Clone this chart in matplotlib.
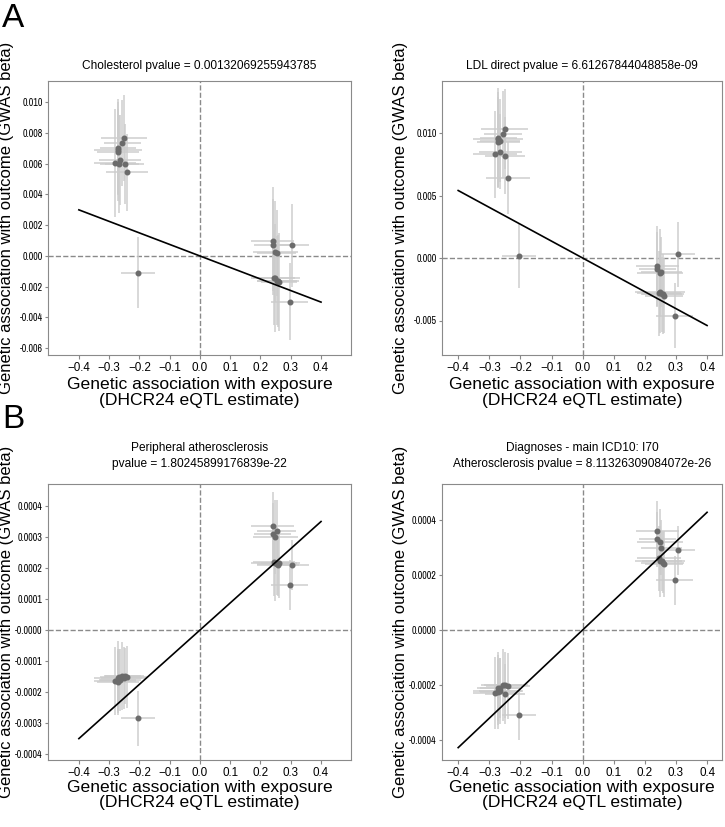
import numpy as np
import matplotlib
matplotlib.use('Agg')
from matplotlib import pyplot as plt
from matplotlib import font_manager
from matplotlib.ticker import FormatStrFormatter

plt.rcParams['font.family'] = ['Liberation Sans', 'DejaVu Sans']

# a condensed face for the y tick labels, if one is installed
narrow = [f.name for f in font_manager.fontManager.ttflist
          if 'Narrow' in f.name or 'Condensed' in f.name]
ytick_family = [narrow[0], 'Liberation Sans'] if narrow else ['Liberation Sans']
ytick_size = 7.2 if narrow else 6.5

# exposure: DHCR24 eQTL estimates (shared by all four outcomes)
x_snp = [-0.281, -0.271, -0.271, -0.271, -0.266, -0.264, -0.256, -0.251, -0.249, -0.240, -0.205,
         0.240, 0.240, 0.249, 0.253, 0.249, 0.257, 0.262, 0.255, 0.245, 0.305, 0.296]
x_err = [0.07, 0.06, 0.08, 0.07, 0.065, 0.07, 0.06, 0.075, 0.065, 0.07, 0.055,
         0.07, 0.06, 0.075, 0.065, 0.08, 0.07, 0.06, 0.065, 0.07, 0.055, 0.06]

# outcomes: GWAS beta per SNP
chol_beta = [0.00603, 0.00702, 0.00689, 0.00676, 0.00598, 0.00624, 0.00733, 0.00766, 0.00598, 0.00544, -0.00109,
             0.00099, 0.00072, 0.00028, 0.00021, -0.00145, -0.00163, -0.00171, -0.0016, -0.0014, 0.0007, -0.00297]
chol_err = [0.0035, 0.003, 0.0033, 0.0028, 0.0032, 0.0029, 0.0028, 0.0028, 0.0026, 0.0025, 0.0023,
            0.0035, 0.003, 0.0033, 0.0028, 0.0035, 0.003, 0.0032, 0.0029, 0.0031, 0.0027, 0.0025]

ldl_beta = [0.0083, 0.0096, 0.0095, 0.0093, 0.0094, 0.0085, 0.0099, 0.0103, 0.0082, 0.0064, 0.0002,
            -0.0006, -0.0009, -0.0012, -0.0011, -0.0027, -0.0029, -0.0030, -0.0029, -0.0028, 0.0003, -0.0046]
ldl_err = [0.0035, 0.004, 0.0038, 0.0036, 0.0033, 0.003, 0.0035, 0.0032, 0.0031, 0.0029, 0.0026,
           0.0032, 0.003, 0.0035, 0.0028, 0.0033, 0.0032, 0.003, 0.003, 0.0034, 0.0026, 0.0026]

pad_beta = [-0.000165, -0.00016, -0.000155, -0.000168, -0.00015, -0.000162, -0.000148, -0.000155, -0.000147, -0.00015, -0.000285,
            0.000335, 0.00031, 0.0003, 0.00032, 0.000215, 0.00021, 0.000215, 0.000212, 0.00022, 0.00021, 0.000145]
pad_err = [0.00011, 0.0001, 0.00012, 0.0001, 0.00009, 0.0001, 0.00011, 0.0001, 0.00009, 0.0001, 0.00009,
           0.00011, 0.0001, 0.00012, 0.0001, 0.00012, 0.0001, 0.00011, 0.0001, 0.00011, 0.00008, 0.00008]

i70_beta = [-0.00023, -0.000227, -0.000221, -0.000212, -0.000212, -0.000221, -0.0002, -0.0002, -0.000233, -0.000205, -0.000311,
            0.00036, 0.00033, 0.00032, 0.00030, 0.00025, 0.000245, 0.00024, 0.00025, 0.00026, 0.00029, 0.00018]
i70_err = [0.00013, 0.00012, 0.00014, 0.00012, 0.00011, 0.00012, 0.00013, 0.00012, 0.00011, 0.00012, 0.00009,
           0.00011, 0.0001, 0.00012, 0.0001, 0.00013, 0.00011, 0.00012, 0.00011, 0.00012, 0.00009, 0.00009]

titles = ['Cholesterol pvalue = 0.00132069255943785',
          'LDL direct pvalue = 6.61267844048858e-09',
          'Peripheral atherosclerosis\npvalue = 1.80245899176839e-22',
          'Diagnoses - main ICD10: I70\nAtherosclerosis pvalue = 8.11326309084072e-26']
slopes = [-0.0075, -0.0135, 0.000875, 0.00107]

W, H = 725, 827
fig = plt.figure(figsize=(W / 100, H / 100), dpi=100)


def px_axes(x0, y0, x1, y1):
    return fig.add_axes([x0 / W, 1 - y1 / H, (x1 - x0) / W, (y1 - y0) / H])


panels = [
    (px_axes(48, 81, 351, 355), chol_beta, chol_err, (-0.502, 0.499), (-0.00644, 0.01138)),
    (px_axes(442, 81, 722, 355), ldl_beta, ldl_err, (-0.452, 0.448), (-0.00776, 0.01416)),
    (px_axes(48, 484, 351, 760), pad_beta, pad_err, (-0.502, 0.499), (-0.000419, 0.000471)),
    (px_axes(442, 484, 722, 760), i70_beta, i70_err, (-0.452, 0.448), (-0.000473, 0.000531)),
]
ytick_sets = [np.arange(-0.006, 0.0101, 0.002), [-0.005, 0.0, 0.005, 0.010],
              np.arange(-0.0004, 0.00041, 0.0001), np.arange(-0.0004, 0.00041, 0.0002)]
ytick_fmt = ['%.3f', '%.3f', '%.4f', '%.4f']

for i, (ax, beta, err, xl, yl) in enumerate(panels):
    ax.axvline(0, color='#8a8a8a', ls='--', lw=1, zorder=1)
    ax.axhline(0, color='#8a8a8a', ls='--', lw=1, zorder=1)
    ax.errorbar(x_snp, beta, xerr=x_err, yerr=err, fmt='none',
                ecolor='#cccccc', elinewidth=1.4, alpha=0.75, zorder=2)
    ax.plot(x_snp, beta, 'o', color='#6b6b6b', ms=3.3, zorder=3)
    xs = np.array([-0.4, 0.4])
    ax.plot(xs, slopes[i] * xs, color='black', lw=1.2, zorder=4)
    ax.set_xlim(*xl)
    ax.set_ylim(*yl)
    ax.set_xticks(np.round(np.arange(-0.4, 0.41, 0.1), 1))
    ax.set_yticks(ytick_sets[i])
    ax.yaxis.set_major_formatter(FormatStrFormatter(ytick_fmt[i]))
    ax.tick_params(axis='x', labelsize=8.4, length=3, width=0.8, color='#888888', pad=2)
    ax.tick_params(axis='y', labelsize=ytick_size, length=2.5, width=0.8, color='#888888',
                   pad=1.2, labelfontfamily=ytick_family)
    for s in ax.spines.values():
        s.set_color('#8a8a8a')
        s.set_linewidth(0.8)
    ax.set_title(titles[i], fontsize=8.6, pad=9 if i < 2 else 12, linespacing=1.45)
    ax.set_ylabel('Genetic association with outcome (GWAS beta)', fontsize=12)
    ax.set_xlabel('Genetic association with exposure\n(DHCR24 eQTL estimate)', fontsize=12.6,
                  linespacing=1.05)
    ax.yaxis.set_label_coords(-0.112 if i % 2 == 0 else -0.121, 0.5)
    ax.xaxis.set_label_coords(0.5, -0.082 if i < 2 else -0.072)

fig.text(2 / W, 1 - 3 / H, 'A', fontsize=24, va='top', ha='left')
fig.text(2 / W, 1 - 404 / H, 'B', fontsize=24, va='top', ha='left')

fig.savefig('out.png', dpi=100)
